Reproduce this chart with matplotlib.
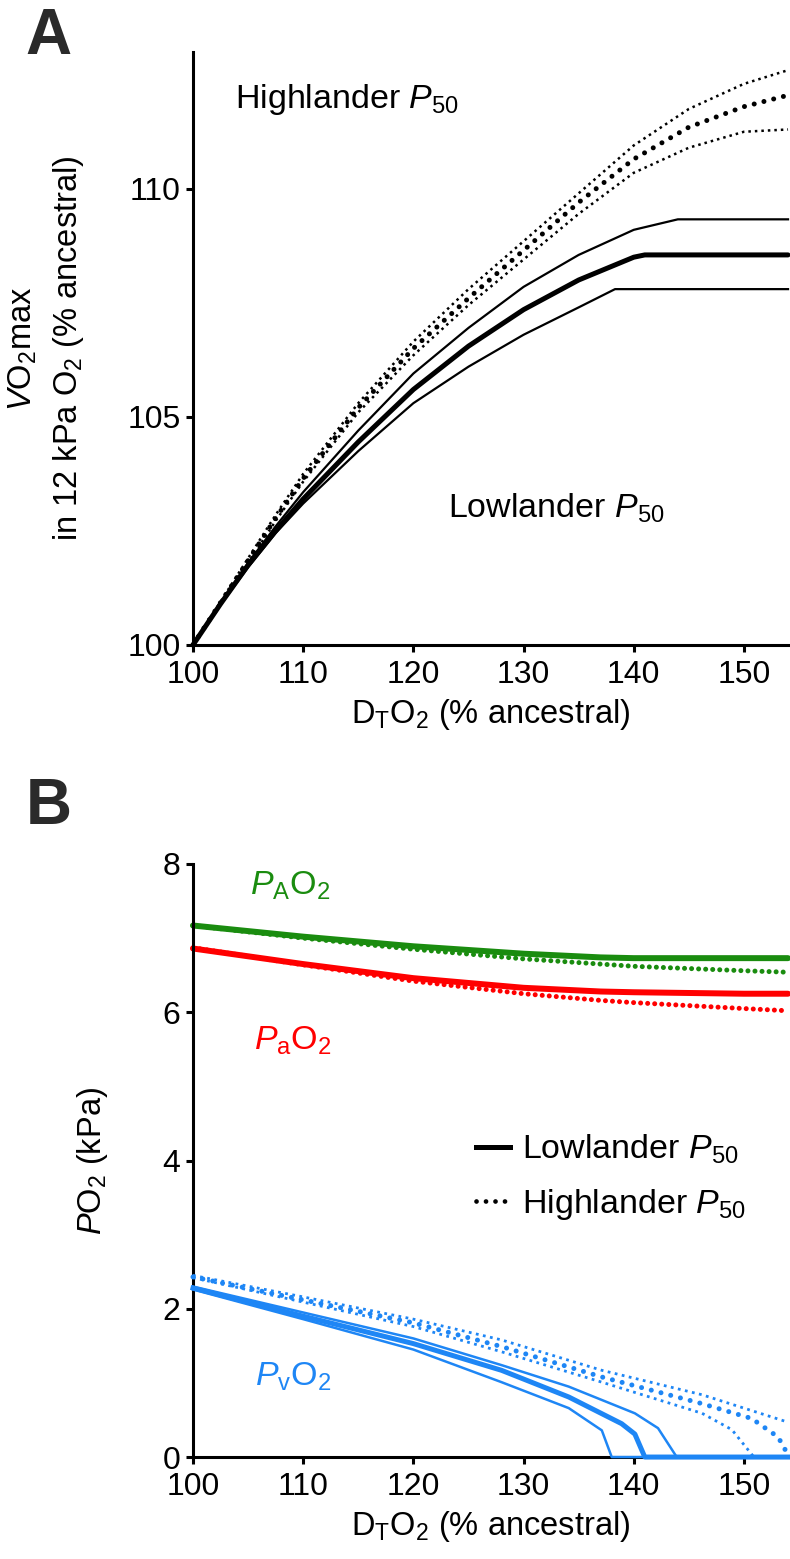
import matplotlib
matplotlib.use('Agg')
import matplotlib.pyplot as plt
from matplotlib.lines import Line2D

plt.rcParams['font.family'] = ['Liberation Sans', 'DejaVu Sans']
plt.rcParams['mathtext.fontset'] = 'custom'
plt.rcParams['mathtext.rm'] = 'Liberation Sans'
plt.rcParams['mathtext.it'] = 'Liberation Sans:italic'
plt.rcParams['mathtext.bf'] = 'Liberation Sans:bold'

# ---------------- Panel A data (VO2max, % ancestral) ----------------
a_low_mid_x = [100, 102.5, 105, 107.5, 110, 115, 120, 125, 130, 135, 140, 141, 154]
a_low_mid_y = [100, 100.9, 101.75, 102.5, 103.2, 104.45, 105.6, 106.55, 107.35, 108.0, 108.5, 108.55, 108.55]
a_low_up_x = [100, 102.5, 105, 107.5, 110, 115, 120, 125, 130, 135, 140, 144, 154]
a_low_up_y = [100, 100.9, 101.8, 102.6, 103.35, 104.7, 105.95, 106.95, 107.85, 108.55, 109.1, 109.33, 109.33]
a_low_lo_x = [100, 102.5, 105, 107.5, 110, 115, 120, 125, 130, 135, 138.3, 154]
a_low_lo_y = [100, 100.88, 101.7, 102.45, 103.1, 104.25, 105.3, 106.1, 106.8, 107.4, 107.8, 107.8]
a_high_x = [100, 102.5, 105, 107.5, 110, 115, 120, 125, 130, 135, 140, 145, 150, 154]
a_high_up_y = [100, 100.95, 101.9, 102.85, 103.75, 105.3, 106.65, 107.8, 108.85, 109.9, 110.95, 111.75, 112.3, 112.6]
a_high_mid_y = [100, 100.93, 101.85, 102.78, 103.65, 105.2, 106.5, 107.6, 108.65, 109.7, 110.65, 111.35, 111.8, 112.05]
a_high_lo_y = [100, 100.92, 101.8, 102.72, 103.58, 105.1, 106.35, 107.45, 108.45, 109.45, 110.35, 110.9, 111.25, 111.3]

# ---------------- Panel B data (PO2, kPa) ----------------
b_x = [100, 110, 120, 130, 137, 140, 150, 154]
pA_low = [7.17, 7.02, 6.89, 6.79, 6.74, 6.73, 6.73, 6.73]
pA_high = [7.17, 7.00, 6.85, 6.72, 6.65, 6.62, 6.56, 6.54]
pa_low = [6.86, 6.65, 6.46, 6.33, 6.28, 6.27, 6.25, 6.25]
pa_high = [6.87, 6.64, 6.42, 6.25, 6.16, 6.13, 6.05, 6.02]

pv_low_mid_x = [100, 110, 120, 128, 134.1, 138.9, 140.1, 141, 154]
pv_low_mid_y = [2.28, 1.90, 1.53, 1.17, 0.81, 0.45, 0.31, 0.0, 0.0]
pv_low_up_x = [100, 110, 120, 128, 134.1, 140.1, 142.2, 143.9, 154]
pv_low_up_y = [2.30, 1.95, 1.60, 1.24, 0.95, 0.59, 0.39, 0.0, 0.0]
pv_low_lo_x = [100, 110, 120, 128, 134.1, 137.1, 138, 154]
pv_low_lo_y = [2.26, 1.86, 1.45, 1.01, 0.66, 0.36, 0.0, 0.0]
pv_high_up_x = [100, 110, 120, 128, 137.1, 146.2, 154]
pv_high_up_y = [2.45, 2.16, 1.86, 1.58, 1.17, 0.84, 0.47]
pv_high_mid_x = [100, 110, 120, 128, 137.1, 146.2, 150.7, 153.1, 154]
pv_high_mid_y = [2.43, 2.12, 1.81, 1.49, 1.08, 0.72, 0.52, 0.27, 0.03]
pv_high_lo_x = [100, 110, 120, 128, 137.1, 146.2, 148.9, 150.9, 154]
pv_high_lo_y = [2.42, 2.09, 1.76, 1.42, 1.01, 0.59, 0.37, 0.0, 0.0]

x_ticks = [100, 110, 120, 130, 140, 150]
a_yticks = [100, 105, 110]
b_yticks = [0, 2, 4, 6, 8]

GREEN = '#1a8c0f'
RED = '#ff0000'
BLUE = '#1e86f5'
TXT = 24.5

fig = plt.figure(figsize=(7.9, 15.59), dpi=100)
axA = fig.add_axes([0.2443, 0.5863, 0.7532, 0.3804])
axB = fig.add_axes([0.2443, 0.0654, 0.7532, 0.3804])

thin_dot = dict(linestyle=(0, (1.0, 1.6)), dash_capstyle='butt')
big_dot = dict(linestyle=(0, (0.01, 2.0)), dash_capstyle='round')

def style(ax, yticks, ylim):
    for s in ['top', 'right']:
        ax.spines[s].set_visible(False)
    for s in ['left', 'bottom']:
        ax.spines[s].set_linewidth(2.2)
    ax.set_xlim(100, 154)
    ax.set_ylim(*ylim)
    ax.set_xticks(x_ticks)
    ax.set_yticks(yticks)
    ax.tick_params(width=2.2, length=5, labelsize=23)
    ax.tick_params(axis='x', pad=6)
    ax.tick_params(axis='y', pad=4)
    ax.set_xlabel(r'D$_\mathregular{T}$O$_\mathregular{2}$ (% ancestral)',
                  fontsize=23.5, labelpad=5)

# ---- Panel A ----
k = 'black'
axA.plot(a_low_up_x, a_low_up_y, color=k, lw=1.6, clip_on=False)
axA.plot(a_low_lo_x, a_low_lo_y, color=k, lw=1.6, clip_on=False)
axA.plot(a_low_mid_x, a_low_mid_y, color=k, lw=3.6, clip_on=False, solid_capstyle='round')
axA.plot(a_high_x, a_high_up_y, color=k, lw=1.8, clip_on=False, **thin_dot)
axA.plot(a_high_x, a_high_lo_y, color=k, lw=1.8, clip_on=False, **thin_dot)
axA.plot(a_high_x, a_high_mid_y, color=k, lw=3.6, clip_on=False, **big_dot)
style(axA, a_yticks, (100, 113))
axA.set_ylabel('$\\it{V}$O$_\\mathregular{2}$max\nin 12 kPa O$_\\mathregular{2}$ (% ancestral)',
               fontsize=23.5, labelpad=30, linespacing=1.45)
axA.text(103.8, 111.95, r'Highlander $\it{P}_\mathregular{50}$', fontsize=TXT, va='center', ha='left')
axA.text(123.1, 103.0, r'Lowlander $\it{P}_\mathregular{50}$', fontsize=TXT, va='center', ha='left')

# ---- Panel B ----
axB.plot(b_x, pA_low, color=GREEN, lw=4.3, solid_capstyle='round', clip_on=False)
axB.plot(b_x, pA_high, color=GREEN, lw=3.6, clip_on=False, linestyle=(0, (0.01, 1.4)), dash_capstyle='round')
axB.plot(b_x, pa_low, color=RED, lw=4.3, solid_capstyle='round', clip_on=False)
axB.plot(b_x, pa_high, color=RED, lw=3.6, clip_on=False, linestyle=(0, (0.01, 1.4)), dash_capstyle='round')

axB.plot(pv_low_up_x, pv_low_up_y, color=BLUE, lw=1.8, clip_on=False, zorder=4)
axB.plot(pv_low_lo_x, pv_low_lo_y, color=BLUE, lw=1.8, clip_on=False, zorder=4)
axB.plot(pv_low_mid_x, pv_low_mid_y, color=BLUE, lw=3.6, clip_on=False, zorder=4)
axB.plot(pv_high_up_x, pv_high_up_y, color=BLUE, lw=2.0, clip_on=False, zorder=4, **thin_dot)
axB.plot(pv_high_lo_x, pv_high_lo_y, color=BLUE, lw=2.0, clip_on=False, zorder=4, **thin_dot)
axB.plot(pv_high_mid_x, pv_high_mid_y, color=BLUE, lw=3.6, clip_on=False, zorder=4, **big_dot)
style(axB, b_yticks, (0, 8))
axB.set_ylabel(r'$\it{P}$O$_\mathregular{2}$ (kPa)', fontsize=23.5, labelpad=38)

axB.text(105.2, 7.7, r'$\it{P}_\mathregular{A}$O$_\mathregular{2}$', color=GREEN, fontsize=TXT, va='center')
axB.text(105.5, 5.62, r'$\it{P}_\mathregular{a}$O$_\mathregular{2}$', color=RED, fontsize=TXT, va='center')
axB.text(105.6, 1.08, r'$\it{P}_\mathregular{v}$O$_\mathregular{2}$', color=BLUE, fontsize=TXT, va='center')

handles = [Line2D([], [], color='black', lw=3.6),
           Line2D([], [], color='black', lw=3.4, linestyle=(0, (0.01, 2.0)), dash_capstyle='round')]
axB.legend(handles, [r'Lowlander $\it{P}_\mathregular{50}$', r'Highlander $\it{P}_\mathregular{50}$'],
           loc='center left', bbox_to_anchor=(0.447, 0.472), frameon=False, fontsize=TXT,
           handlelength=1.0, handletextpad=0.35, labelspacing=0.6, borderpad=0)

fig.text(0.032, 0.9955, 'A', fontsize=46, fontweight='bold', color='#2a2a2a', va='top', ha='left')
fig.text(0.032, 0.5015, 'B', fontsize=46, fontweight='bold', color='#2a2a2a', va='top', ha='left')

fig.savefig('out.png', dpi=100)
